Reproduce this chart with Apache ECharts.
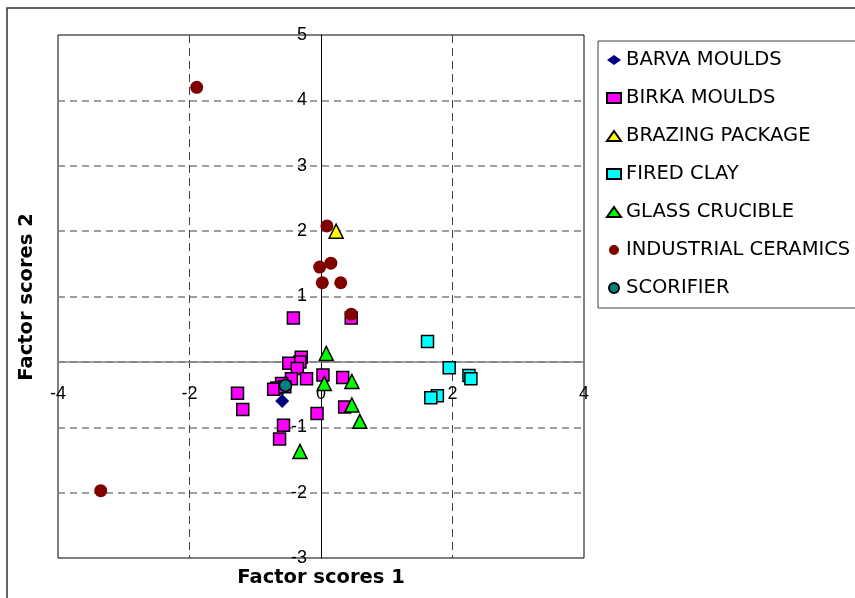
<!DOCTYPE html>
<html>
<head>
<meta charset="utf-8">
<script src="https://cdn.jsdelivr.net/npm/echarts@6/dist/echarts.min.js"></script>
<style>
  html, body { margin: 0; padding: 0; background: #fff; }
  #chart { width: 855px; height: 598px; }
</style>
</head>
<body>
<div id="chart"></div>
<script>
// factor scores: [score 1, score 2]
const barvaMoulds = [[-0.59, -0.60]];
const birkaMoulds = [
  [-0.42, 0.67], [0.46, 0.67], [-0.30, 0.07], [-0.32, 0.00], [-0.49, -0.02],
  [-0.36, -0.10], [-0.45, -0.26], [-0.22, -0.26], [0.03, -0.20], [0.33, -0.24],
  [-0.60, -0.33], [-0.67, -0.40], [-0.72, -0.42], [-1.27, -0.48], [-1.19, -0.73],
  [-0.06, -0.79], [0.36, -0.69], [-0.57, -0.97], [-0.63, -1.18], [-0.55, -0.38]
];
const brazingPackage = [[0.23, 2.00]];
const firedClay = [[1.62, 0.31], [1.95, -0.09], [2.25, -0.21], [2.28, -0.26], [1.77, -0.52], [1.67, -0.55]];
const glassCrucible = [[0.08, 0.13], [0.05, -0.33], [0.47, -0.30], [0.47, -0.66], [0.59, -0.91], [-0.32, -1.37]];
const industrialCeramics = [
  [-1.89, 4.20], [-3.35, -1.97], [0.09, 2.08], [-0.02, 1.45],
  [0.15, 1.51], [0.02, 1.21], [0.30, 1.21], [0.46, 0.73]
];
const scorifier = [[-0.54, -0.36]];

const xTicks = { min: -4, max: 4, step: 2 };
const yTicks = { min: -3, max: 5, step: 1 };

const chart = echarts.init(document.getElementById('chart'));

const border = { borderColor: '#000', borderWidth: 1.5, opacity: 1 };

// labels sit next to the crossing axes at 0, not at the plot edges
const option = {
  animation: false,
  textStyle: { fontFamily: 'Liberation Sans, Arial, sans-serif' },
  grid: {
    left: 58, top: 35, width: 526, height: 523,
    show: true, borderColor: '#000', borderWidth: 1, backgroundColor: 'transparent'
  },
  xAxis: {
    type: 'value',
    min: xTicks.min, max: xTicks.max, interval: xTicks.step,
    axisLine: { onZero: true, lineStyle: { color: '#808080', width: 1.5 } },
    axisTick: { show: false },
    axisLabel: { color: '#000', fontSize: 18, margin: -173 },
    splitLine: {
      show: true, showMinLine: false, showMaxLine: false,
      lineStyle: { color: '#404040', width: 1, type: [8, 5] }
    }
  },
  yAxis: {
    type: 'value',
    min: yTicks.min, max: yTicks.max, interval: yTicks.step,
    axisLine: { onZero: true, lineStyle: { color: '#000', width: 1 } },
    axisTick: { show: false },
    axisLabel: {
      color: '#000', fontSize: 18, margin: -249,
      formatter: v => (v === 0 ? '' : String(v))
    },
    splitLine: {
      show: true, showMinLine: false, showMaxLine: false,
      lineStyle: { color: '#808080', width: 1.5, type: [7, 5] }
    }
  },
  legend: {
    orient: 'vertical',
    left: 598, top: 41,
    padding: [9, 10, 10, 8],
    itemWidth: 14, itemHeight: 10,
    itemGap: 18,
    borderColor: '#404040', borderWidth: 1,
    textStyle: { color: '#000', fontSize: 19.5, lineHeight: 18, fontFamily: 'DejaVu Sans, sans-serif' }
  },
  graphic: [
    {
      type: 'rect', silent: true,
      shape: { x: 7, y: 8, width: 880, height: 620 },
      style: { fill: 'none', stroke: '#303030', lineWidth: 1.5 }
    },
    {
      type: 'text', x: 321, y: 578,
      style: {
        text: 'Factor scores 1', fill: '#000',
        font: 'bold 19.5px "DejaVu Sans", sans-serif',
        textAlign: 'center', textVerticalAlign: 'middle'
      }
    },
    {
      type: 'text', x: 27, y: 297, rotation: Math.PI / 2,
      style: {
        text: 'Factor scores 2', fill: '#000',
        font: 'bold 19.5px "DejaVu Sans", sans-serif',
        textAlign: 'center', textVerticalAlign: 'middle'
      }
    }
  ],
  series: [
    {
      name: 'BARVA MOULDS', type: 'scatter', data: barvaMoulds,
      symbol: 'diamond', symbolSize: 14,
      itemStyle: { color: '#000080', opacity: 1 }
    },
    {
      name: 'BIRKA MOULDS', type: 'scatter', data: birkaMoulds,
      symbol: 'rect', symbolSize: 12,
      itemStyle: Object.assign({ color: '#FF00FF' }, border)
    },
    {
      name: 'BRAZING PACKAGE', type: 'scatter', data: brazingPackage,
      symbol: 'triangle', symbolSize: 14,
      itemStyle: Object.assign({ color: '#FFFF00' }, border)
    },
    {
      name: 'FIRED CLAY', type: 'scatter', data: firedClay,
      symbol: 'rect', symbolSize: 12,
      itemStyle: Object.assign({ color: '#00FFFF' }, border)
    },
    {
      name: 'GLASS CRUCIBLE', type: 'scatter', data: glassCrucible,
      symbol: 'triangle', symbolSize: 14,
      itemStyle: Object.assign({ color: '#00FF00' }, border)
    },
    {
      name: 'INDUSTRIAL CERAMICS', type: 'scatter', data: industrialCeramics,
      symbol: 'circle', symbolSize: 13,
      itemStyle: { color: '#800000', opacity: 1 }
    },
    {
      name: 'SCORIFIER', type: 'scatter', data: scorifier,
      symbol: 'circle', symbolSize: 12,
      itemStyle: Object.assign({ color: '#008080' }, border)
    }
  ]
};

chart.setOption(option);
</script>
</body>
</html>
